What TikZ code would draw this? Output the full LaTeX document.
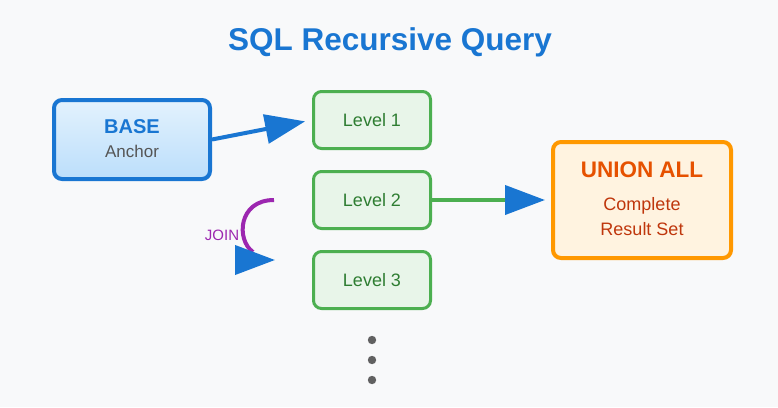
\documentclass[tikz,border=0pt]{standalone}
\usepackage{fontspec}
\setmainfont{Liberation Sans}
\usetikzlibrary{arrows.meta,positioning}
\definecolor{bgc}{HTML}{F8F9FA}
\definecolor{bluec}{HTML}{1976D2}
\definecolor{bluetop}{HTML}{E3F2FD}
\definecolor{bluebot}{HTML}{BBDEFB}
\definecolor{greenc}{HTML}{4CAF50}
\definecolor{greenf}{HTML}{E8F5E9}
\definecolor{greent}{HTML}{2E7D32}
\definecolor{orangec}{HTML}{FF9800}
\definecolor{orangef}{HTML}{FFF3E0}
\definecolor{oranget}{HTML}{E65100}
\definecolor{orangeu}{HTML}{BF360C}
\definecolor{purplec}{HTML}{9C27B0}
\definecolor{grayt}{HTML}{555555}
\definecolor{dotc}{HTML}{616161}

\begin{document}
\begin{tikzpicture}[x=1pt, y=-1pt,
  box/.style={draw, rounded corners=8pt, inner sep=0pt, align=center},
  basebox/.style={box, draw=bluec, line width=4pt, top color=bluetop, bottom color=bluebot,
    minimum width=156pt, minimum height=79pt},
  lvl/.style={box, draw=greenc, line width=3pt, fill=greenf, text=greent, font=\fontsize{18}{20}\selectfont,
    minimum width=117pt, minimum height=57pt},
  unibox/.style={box, draw=orangec, line width=4pt, fill=orangef, minimum width=178pt, minimum height=116pt},
  arr/.style={line width=4pt, -{Triangle[length=40pt, width=29pt, color=bluec]}}]
  \fill[bgc] (0,0) rectangle (778,407);
  \node[font=\fontsize{31.5}{34}\selectfont\bfseries, text=bluec] (title) at (390,42) {SQL Recursive Query};
  % left: anchor member
  \node[basebox] (base) at (132,139.5) {};
  \node[font=\fontsize{20}{22}\selectfont\bfseries, text=bluec] (baseT) at ([yshift=13pt]base.center) {BASE};
  \node[font=\fontsize{17}{19}\selectfont, text=grayt] (baseS) at ([yshift=-12pt]base.center) {Anchor};
  % middle: recursion levels
  \node[lvl] (lvl1) at (372,120) {Level 1};
  \node[lvl, below=20pt of lvl1] (lvl2) {Level 2};
  \node[lvl, below=20pt of lvl2] (lvl3) {Level 3};
  \foreach \k in {0,1,2}
    \fill[dotc] (372,340+20*\k) circle (4.2pt);
  % right: union
  \node[unibox] (uni) at (642,200) {};
  \node[font=\fontsize{22.5}{24}\selectfont\bfseries, text=oranget] (uniT) at ([yshift=30pt]uni.center) {UNION ALL};
  \node[font=\fontsize{18}{25}\selectfont, text=orangeu, align=center] (uniS) at ([yshift=-17pt]uni.center) {Complete\\Result Set};
  % connectors
  \draw[arr, bluec, shorten >=7pt] (base.east) -- (lvl1.west);
  \draw[arr, greenc, shorten >=6pt] (lvl2.east) -- (uni.west);
  % join loop
  \coordinate (jS) at (274,200);
  \coordinate (jM) at (253,252);
  \coordinate (jA) at (235,260);
  \coordinate (jE) at (275,260);
  \draw[purplec, line width=4pt] (jS) .. controls (238,200) and (236,240) .. (jM);
  \draw[arr, purplec] (jA) -- (jE);
  \node[font=\fontsize{15}{17}\selectfont, text=purplec] (joinL) at (222,235) {JOIN};
\end{tikzpicture}
\end{document}
